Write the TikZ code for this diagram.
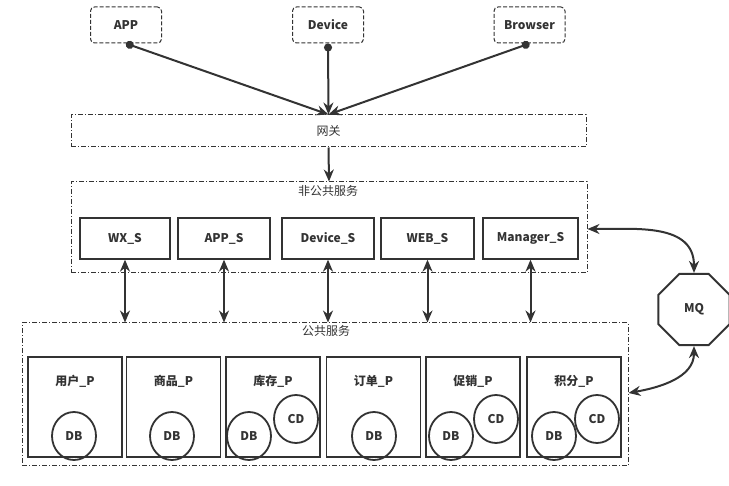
\documentclass[tikz,border=0pt]{standalone}
\usepackage{fontspec}
\setmainfont{Noto Sans CJK SC}
\usetikzlibrary{arrows.meta,shapes.geometric}
\definecolor{ink}{HTML}{333333}
\tikzset{
  lbl/.style={font=\fontsize{12}{14}\selectfont\bfseries, text=ink},
  ttl/.style={font=\fontsize{12}{14}\selectfont, text=ink},
  client/.style={draw=ink, line width=1pt, dash pattern=on 4pt off 2pt, rounded corners=4pt, minimum width=71pt, minimum height=36pt, inner sep=0pt, lbl},
  cont/.style={draw=ink, line width=1pt, dash pattern=on 5pt off 2pt on 1pt off 2pt, inner sep=0pt},
  sbox/.style={draw=ink, line width=1.3pt, minimum height=41pt, inner sep=0pt, lbl},
  pbox/.style={draw=ink, line width=1.3pt, minimum height=100pt, minimum width=94pt, inner sep=0pt},
  store/.style={draw=ink, line width=1.8pt, ellipse, minimum width=44pt, minimum height=48pt, inner sep=0pt, lbl},
  tip/.style={Stealth[length=12pt,width=10pt]},
  conn/.style={draw=ink, line width=2pt, {Circle[length=8pt]}-{Stealth[length=12pt,width=10pt]}},
  arr/.style={draw=ink, line width=2pt, -{Stealth[length=12pt,width=10pt]}},
  biarr/.style={draw=ink, line width=2pt, {Stealth[length=12pt,width=10pt]}-{Stealth[length=12pt,width=10pt]}},
}
\begin{document}
\begin{tikzpicture}[x=1pt,y=-1pt]
\useasboundingbox (0,0) rectangle (729,486);
% clients
\node[client] (app) at (126,25) {APP};
\node[client] (dev) at (328,25) {Device};
\node[client] (brw) at (529.5,25) {Browser};
% gateway
\node[cont, minimum width=515pt, minimum height=32pt, ttl] (gw) at (328.5,131) {网关};
% non-public container
\node[cont, minimum width=516pt, minimum height=91pt] (np) at (329,227.5) {};
\node[ttl] (npt) at (328,191) {非公共服务};
\node[sbox, minimum width=90pt] (wx) at (125,238.5) {WX\_S};
\node[sbox, minimum width=92pt] (apps) at (224,238.5) {APP\_S};
\node[sbox, minimum width=92pt] (devs) at (328,238.5) {Device\_S};
\node[sbox, minimum width=93pt] (web) at (427.5,238.5) {WEB\_S};
\node[sbox, minimum width=95pt] (mgr) at (530.5,238.5) {Manager\_S};
% public container
\node[cont, minimum width=606pt, minimum height=143pt] (pub) at (325,394.5) {};
\node[ttl] (pubt) at (326,331) {公共服务};
\node[pbox] (p1) at (75,407) {};
\node[pbox] (p2) at (173.5,407) {};
\node[pbox] (p3) at (273,407) {};
\node[pbox] (p4) at (373.5,407) {};
\node[pbox] (p5) at (473,407) {};
\node[pbox] (p6) at (574,407) {};
\node[lbl] (l1) at (75,381) {用户\_P};
\node[lbl] (l2) at (173.5,381) {商品\_P};
\node[lbl] (l3) at (273,381) {库存\_P};
\node[lbl] (l4) at (373.5,381) {订单\_P};
\node[lbl] (l5) at (473,381) {促销\_P};
\node[lbl] (l6) at (574,381) {积分\_P};
\node[store] (db1) at (74,436) {DB};
\node[store] (db2) at (172,436) {DB};
\node[store] (cd3) at (296,419) {CD};
\node[store] (db3) at (249,436) {DB};
\node[store] (db4) at (374,436) {DB};
\node[store] (cd5) at (496,419) {CD};
\node[store] (db5) at (451,436) {DB};
\node[store] (cd6) at (597,419) {CD};
\node[store] (db6) at (554,436) {DB};
% MQ
\node[draw=ink, line width=2pt, regular polygon, regular polygon sides=8, minimum size=77pt, inner sep=0pt, lbl] (mq) at (694,309.5) {MQ};
% connectors
\draw[conn] (app.south) -- (gw.north);
\draw[conn] (dev.south) -- (gw.north);
\draw[conn] (brw.south) -- (gw.north);
\draw[arr] (gw.south) -- (np.north);
\foreach \s in {wx,apps,devs,web,mgr}
  \draw[biarr] (\s.south) -- (\s.south |- pub.north);
\coordinate (npe) at (np.east |- 0,229);
\draw[biarr] (npe) to[out=0,in=90,looseness=1.1] (mq.north);
\coordinate (pube) at (pub.east |- 0,393);
\draw[biarr] (mq.south) to[out=-90,in=10] (pube);
\end{tikzpicture}
\end{document}
